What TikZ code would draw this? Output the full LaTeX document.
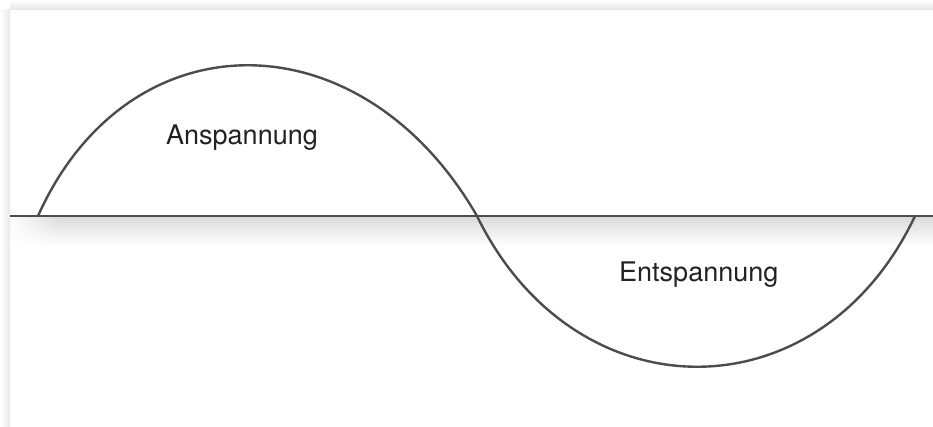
\documentclass[tikz,border=0pt]{standalone}
\usepackage{fontspec}
\setmainfont{TeX Gyre Heros}
\definecolor{linec}{HTML}{4C4C4E}
\definecolor{textc}{HTML}{222222}
\begin{document}
\begin{tikzpicture}[x=1pt,y=-1pt,
  curve/.style={draw=linec, line width=2.4pt},
  axisline/.style={draw=linec, line width=2.6pt},
  lbl/.style={font=\fontsize{27}{32}\selectfont, text=textc, anchor=base west, inner sep=0pt}]
\useasboundingbox (0,0) rectangle (933,426);
\fill[white] (0,0) rectangle (933,426);
% panel shadow
\shade[left color=white, right color=black!9] (0,9) rectangle (10,426);
\shade[top color=white, bottom color=black!9] (10,0) rectangle (933,9);
% axis shadow
\shade[top color=black!14, bottom color=white] (60,217) rectangle (933,246);
\foreach \i in {0,...,9} {
  \pgfmathsetmacro{\xa}{10+5*\i}
  \pgfmathsetmacro{\xb}{15+5*\i}
  \pgfmathsetmacro{\op}{(\i+0.5)/10}
  \shade[top color=black!14, bottom color=white, opacity=\op] (\xa,217) rectangle (\xb,246);
}
% axis
\coordinate (axL) at (10,216);
\coordinate (axR) at (933,216);
\draw[axisline] (axL) -- (axR);
% wave
\coordinate (A) at (38,216);
\coordinate (M) at (477,216);
\coordinate (B) at (915,216);
\draw[curve] (A) .. controls (128,15) and (361,15) .. (M)
             .. controls (575,417) and (820,417) .. (B);
% labels
\node[lbl] (ans) at (166,144) {Anspannung};
\node[lbl] (ent) at (619,281) {Entspannung};
\end{tikzpicture}
\end{document}
